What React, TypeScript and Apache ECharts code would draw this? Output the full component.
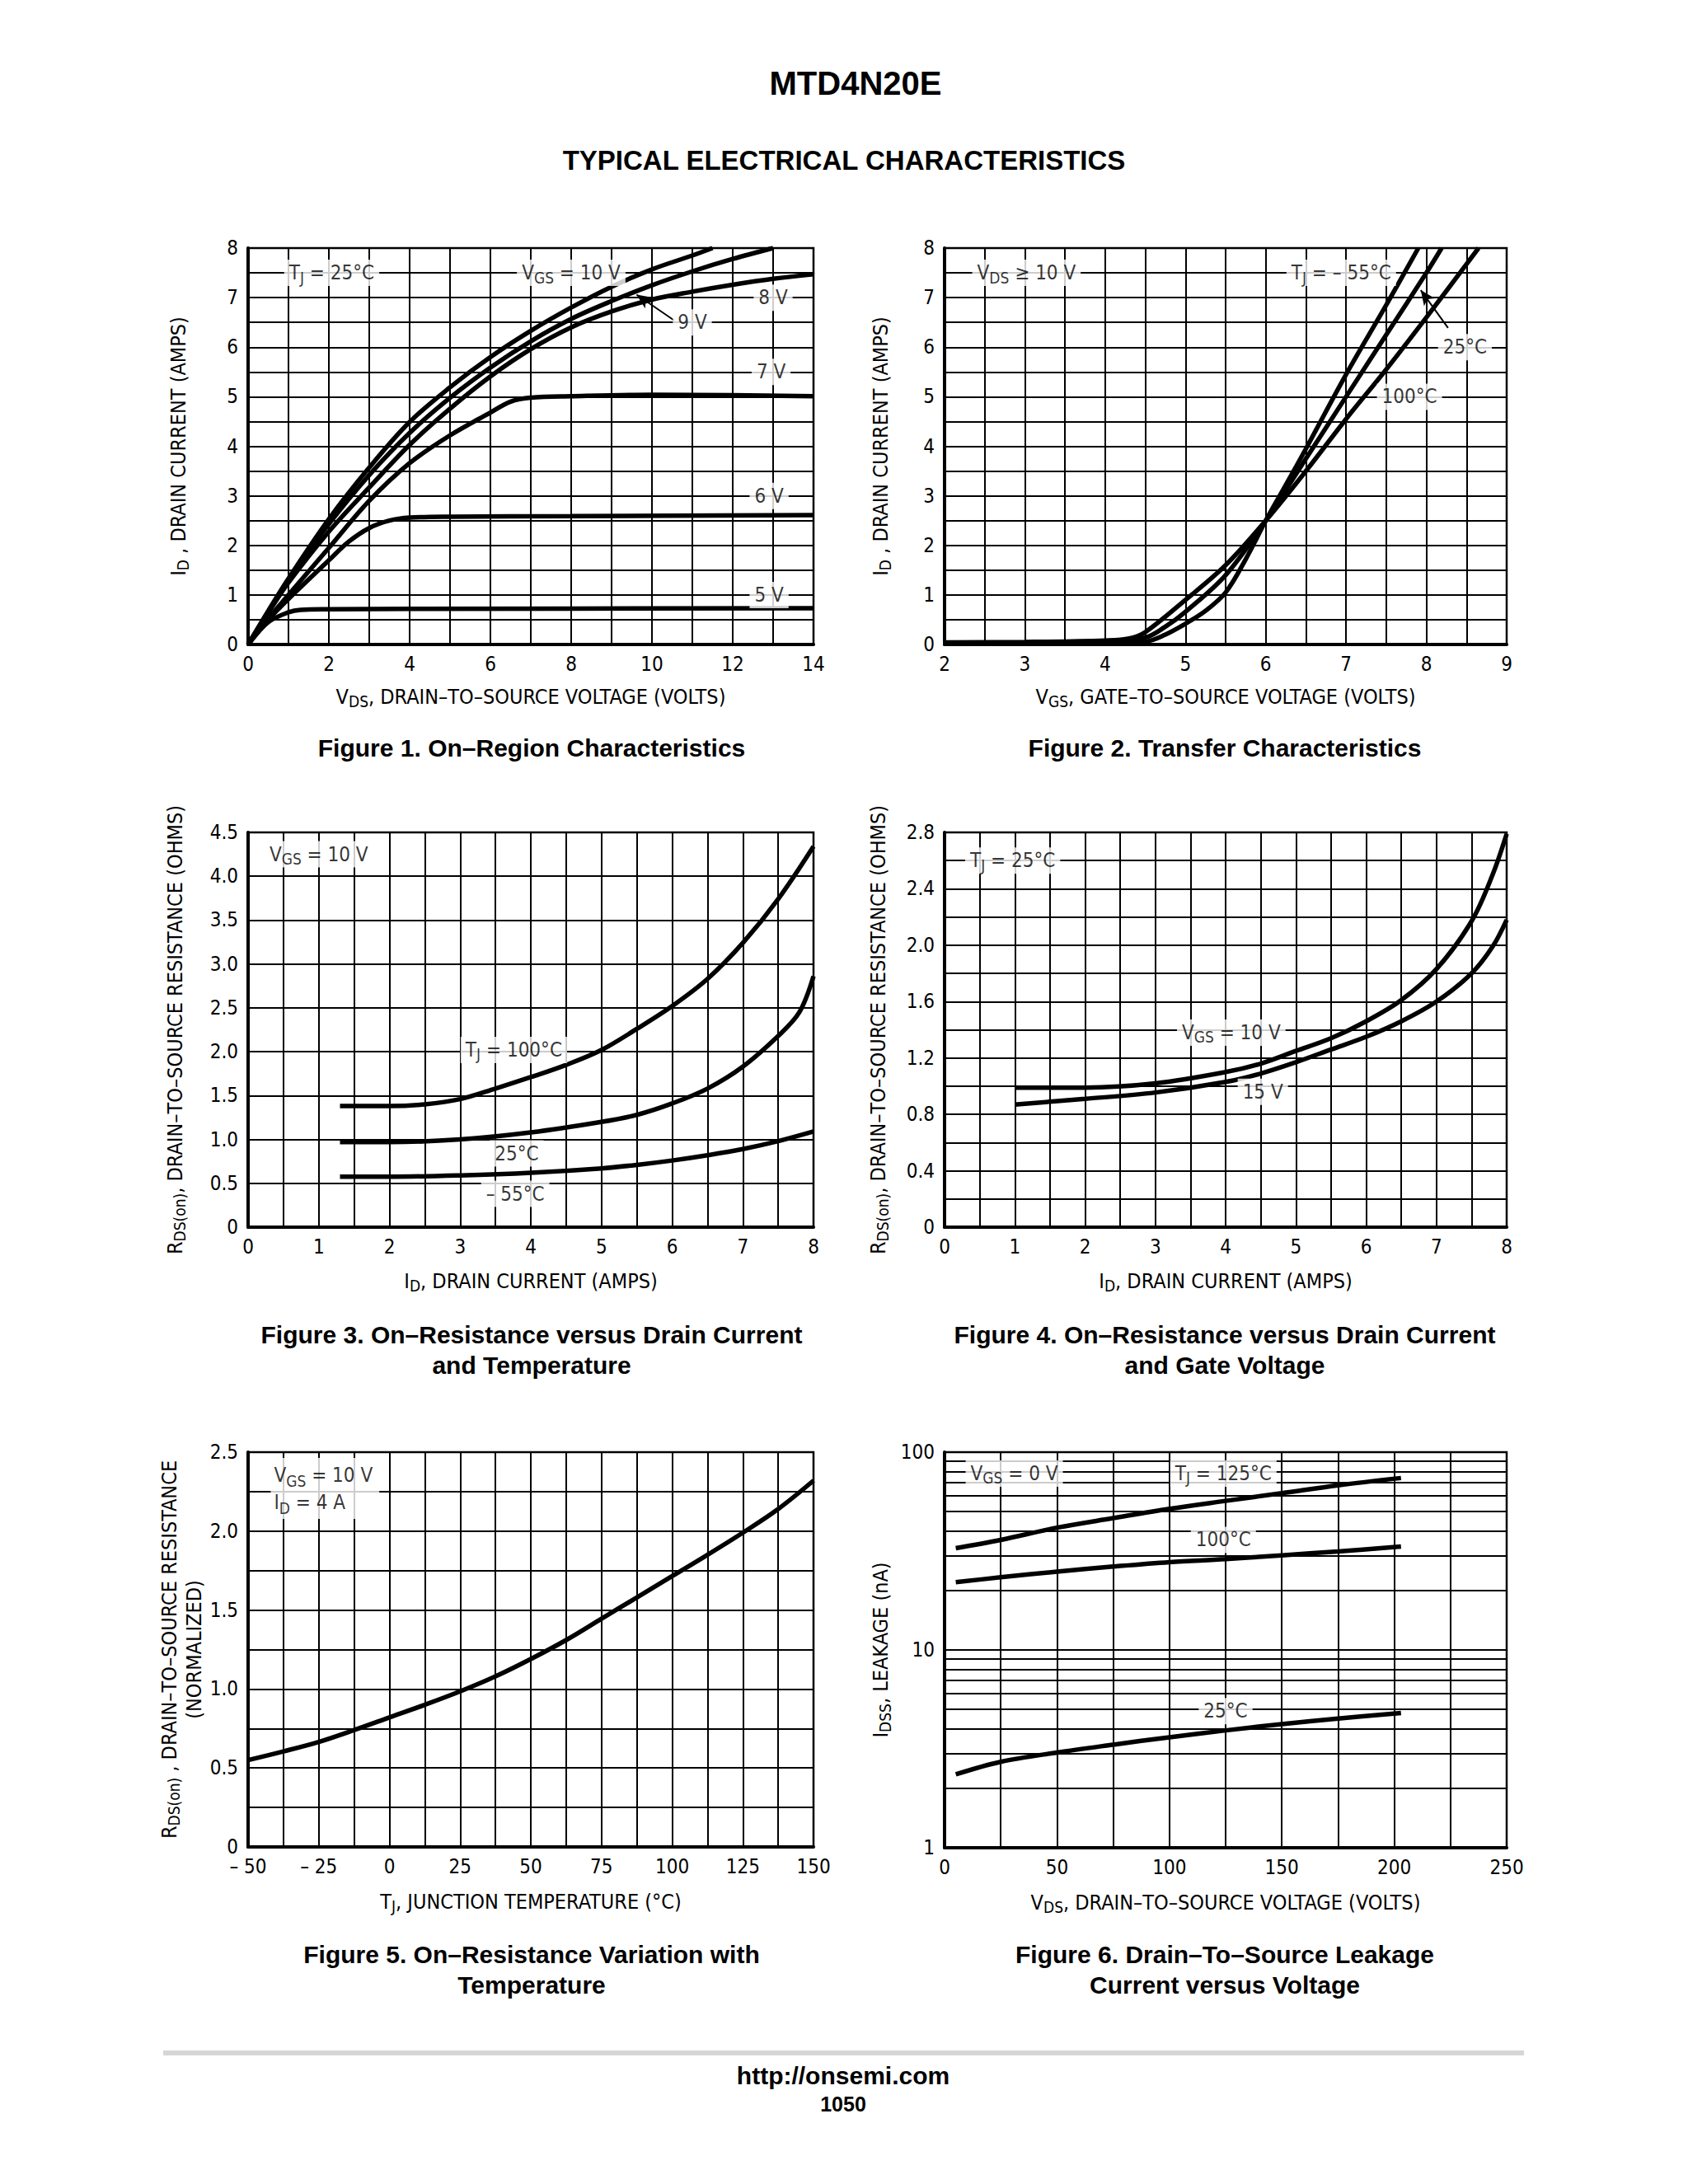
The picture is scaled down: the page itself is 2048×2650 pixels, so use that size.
import React, { useEffect, useRef } from 'react';
import * as echarts from 'echarts';

// ---------- Figure 1: ID vs VDS (TJ = 25°C) ----------
const f1Vgs10 = [[0, 0], [0.5, 0.68], [1, 1.33], [2, 2.53], [3, 3.57], [4, 4.49], [5, 5.19], [6, 5.8], [7, 6.33], [8, 6.8], [9, 7.22], [10, 7.57], [11, 7.85], [11.5, 8.0]];
const f1Vgs9 = [[0, 0], [0.5, 0.66], [1, 1.3], [2, 2.43], [3, 3.42], [4, 4.27], [5, 4.98], [6, 5.59], [7, 6.12], [8, 6.57], [9, 6.93], [10, 7.25], [11, 7.53], [12, 7.78], [13, 8.0]];
const f1Vgs8 = [[0, 0], [0.5, 0.64], [1, 1.25], [2, 2.28], [3, 3.17], [4, 4.03], [5, 4.76], [6, 5.41], [7, 5.96], [8, 6.4], [9, 6.72], [10, 6.96], [11, 7.12], [12, 7.26], [13, 7.38], [14, 7.47]];
const f1Vgs7 = [[0, 0], [0.5, 0.52], [1, 1.0], [2, 1.95], [3, 2.9], [4, 3.66], [5, 4.22], [6, 4.68], [6.5, 4.9], [7, 4.98], [8, 5.01], [10, 5.04], [12, 5.03], [14, 5.01]];
const f1Vgs6 = [[0, 0], [0.5, 0.5], [1, 0.92], [2, 1.7], [2.5, 2.08], [3, 2.35], [3.5, 2.5], [4, 2.56], [5, 2.58], [8, 2.59], [14, 2.61]];
const f1Vgs5 = [[0, 0], [0.5, 0.45], [1, 0.65], [1.3, 0.7], [2, 0.71], [4, 0.72], [14, 0.73]];

// ---------- Figure 2: ID vs VGS (VDS >= 10 V) ----------
const f2Tm55 = [[2, 0.02], [3, 0.03], [4, 0.04], [4.5, 0.06], [4.75, 0.2], [5, 0.42], [5.25, 0.68], [5.5, 1.05], [5.75, 1.72], [6, 2.5], [6.25, 3.22], [6.5, 3.95], [7, 5.45], [7.5, 6.85], [7.9, 8.0]];
const f2T25 = [[2, 0.03], [3, 0.04], [4, 0.06], [4.5, 0.14], [4.75, 0.36], [5, 0.66], [5.5, 1.4], [6, 2.5], [6.5, 3.75], [7, 5.0], [7.5, 6.25], [8, 7.5], [8.19, 8.0]];
const f2T100 = [[2, 0.04], [3, 0.05], [4, 0.08], [4.3, 0.12], [4.5, 0.25], [5, 0.9], [5.5, 1.6], [6, 2.5], [6.5, 3.5], [7, 4.55], [7.5, 5.55], [8, 6.6], [8.65, 8.0]];

// ---------- Figure 3: RDS(on) vs ID and temperature ----------
const f3T100 = [[1.3, 1.38], [2, 1.38], [2.5, 1.4], [3, 1.46], [3.5, 1.58], [4, 1.71], [4.5, 1.85], [5, 2.02], [5.5, 2.26], [6, 2.52], [6.5, 2.83], [7, 3.24], [7.5, 3.74], [8, 4.34]];
const f3T25 = [[1.3, 0.97], [2, 0.97], [3, 1.0], [4, 1.08], [5, 1.2], [5.5, 1.28], [6, 1.41], [6.5, 1.58], [7, 1.83], [7.5, 2.18], [7.8, 2.45], [8, 2.86]];
const f3Tm55 = [[1.3, 0.575], [2, 0.575], [3, 0.59], [4, 0.62], [5, 0.67], [5.5, 0.71], [6, 0.76], [6.5, 0.82], [7, 0.89], [7.5, 0.98], [8, 1.09]];

// ---------- Figure 4: RDS(on) vs ID and gate voltage ----------
const f4Vgs10 = [[1, 0.99], [2, 0.99], [3, 1.02], [4, 1.1], [4.5, 1.16], [5, 1.25], [5.5, 1.34], [6, 1.46], [6.5, 1.61], [7, 1.83], [7.5, 2.17], [7.8, 2.5], [8, 2.79]];
const f4Vgs15 = [[1, 0.87], [2, 0.91], [3, 0.955], [4, 1.03], [4.5, 1.09], [5, 1.17], [5.5, 1.26], [6, 1.35], [6.5, 1.46], [7, 1.6], [7.5, 1.8], [7.8, 1.99], [8, 2.18]];

// ---------- Figure 5: normalized RDS(on) vs TJ ----------
const f5Temp = [-50, -37.5, -25, -12.5, 0, 12.5, 25, 37.5, 50, 62.5, 75, 87.5, 100, 112.5, 125, 137.5, 150];
const f5Rds = [0.55, 0.605, 0.665, 0.74, 0.82, 0.9, 0.985, 1.08, 1.19, 1.31, 1.445, 1.58, 1.715, 1.85, 1.99, 2.14, 2.32];

// ---------- Figure 6: IDSS leakage vs VDS ----------
const f6Vds = [5, 25, 50, 75, 100, 125, 150, 175, 203];
const f6I125 = [32.7, 36, 41.5, 46.4, 51.7, 56.7, 62, 68, 74];
const f6I100 = [22, 23.3, 24.9, 26.4, 27.8, 28.8, 30.1, 31.5, 33.3];
const f6I25 = [2.35, 2.72, 3.03, 3.32, 3.62, 3.92, 4.22, 4.5, 4.8];
const f6MinorTicks = [2, 3, 4, 5, 6, 7, 8, 9, 20, 30, 40, 50, 60, 70, 80, 90];

const FONT = "'Liberation Sans Narrow','DejaVu Sans Condensed','Arial Narrow',sans-serif";
const BOLD = "'Liberation Sans',Arial,Helvetica,sans-serif";
const FS = 24;

const rich = {
  sub: { fontSize: 19, fontFamily: FONT, color: '#000', verticalAlign: 'bottom', lineHeight: 14 },
};

const GRIDS = [
  { left: 301, top: 301, width: 686, height: 481 },
  { left: 1146, top: 301, width: 682, height: 481 },
  { left: 301, top: 1010, width: 686, height: 479 },
  { left: 1146, top: 1010, width: 682, height: 479 },
  { left: 301, top: 1762, width: 686, height: 479 },
  { left: 1146, top: 1762, width: 682, height: 480 },
];

const GW = 2;
const gridLine = { show: true, lineStyle: { color: '#000', width: GW } };
const axisLabelBase = { color: '#000', fontSize: FS, fontFamily: FONT, margin: 12 };
const nameStyle = { color: '#000', fontSize: 25, fontFamily: FONT, lineHeight: 30, rich };

function ax(i: number, min: number, max: number, interval: number, minor: number, name: string, gap: number, fmt?: (v: number) => string) {
  return {
    gridIndex: i, type: 'value', min, max, interval,
    axisLine: { show: true, onZero: false, lineStyle: { color: '#000', width: 4 } },
    axisTick: { show: false },
    axisLabel: { ...axisLabelBase, formatter: fmt },
    splitLine: gridLine,
    minorTick: { show: false, splitNumber: minor },
    minorSplitLine: { show: minor > 1, lineStyle: { color: '#000', width: GW } },
    name, nameLocation: 'middle', nameGap: gap, nameTextStyle: nameStyle,
  };
}

function curve(i: number, data: number[][]) {
  return {
    type: 'line', xAxisIndex: i, yAxisIndex: i, data, smooth: 0.35, showSymbol: false, symbol: 'none',
    lineStyle: { color: '#000', width: 5.5 }, z: 3, silent: true,
  };
}
function zipCurve(i: number, xs: number[], ys: number[]) {
  return curve(i, xs.map((x, k) => [x, ys[k]]));
}

const noteLabel = {
  show: true, position: 'inside', formatter: (p: any) => p.name, color: '#000', fontSize: FS,
  fontFamily: FONT, backgroundColor: '#fff', padding: [1, 6, 1, 6], lineHeight: 30, rich,
};

function notes(i: number, items: any[], markLine?: any, label?: any) {
  return {
    type: 'scatter', xAxisIndex: i, yAxisIndex: i, symbol: 'circle', symbolSize: 1,
    itemStyle: { color: 'rgba(0,0,0,0)' }, silent: true, z: 6,
    label: label || noteLabel,
    data: items,
    markLine,
  };
}

function arrow(from: number[], to: number[]) {
  return {
    silent: true, symbol: ['none', 'arrow'], symbolSize: [12, 18],
    lineStyle: { color: '#000', width: 2, type: 'solid' }, label: { show: false },
    data: [[{ coord: from }, { coord: to }]],
  };
}

const dec1 = (v: number) => (v === 0 ? '0' : v.toFixed(1));
const neg = (v: number) => (v < 0 ? '– ' + (-v) : String(v));

function caption(x: number, y: number, text: string, size = 30) {
  return {
    type: 'text', x, y, silent: true,
    style: { text, fill: '#000', font: `bold ${size}px ${BOLD}`, align: 'center', verticalAlign: 'middle', textAlign: 'center', textVerticalAlign: 'middle' },
  };
}

export default function App() {
  const ref = useRef<HTMLDivElement>(null);
  useEffect(() => {
    if (!ref.current) return;
    const chart = echarts.init(ref.current, undefined, { renderer: 'svg' });
    const option: any = {
      animation: false,
      backgroundColor: '#fff',
      grid: GRIDS.map((g) => ({ ...g, show: true, borderColor: '#000', borderWidth: 2.5, containLabel: false })),
      xAxis: [
        ax(0, 0, 14, 2, 2, 'V{sub|DS}, DRAIN–TO–SOURCE VOLTAGE (VOLTS)', 48),
        ax(1, 2, 9, 1, 2, 'V{sub|GS}, GATE–TO–SOURCE VOLTAGE (VOLTS)', 48),
        ax(2, 0, 8, 1, 2, 'I{sub|D}, DRAIN CURRENT (AMPS)', 50),
        ax(3, 0, 8, 1, 2, 'I{sub|D}, DRAIN CURRENT (AMPS)', 50),
        ax(4, -50, 150, 25, 2, 'T{sub|J}, JUNCTION TEMPERATURE (°C)', 51, neg),
        ax(5, 0, 250, 50, 2, 'V{sub|DS}, DRAIN–TO–SOURCE VOLTAGE (VOLTS)', 51),
      ],
      yAxis: [
        ax(0, 0, 8, 1, 2, 'I{sub|D} , DRAIN CURRENT (AMPS)', 70),
        ax(1, 0, 8, 1, 2, 'I{sub|D} , DRAIN CURRENT (AMPS)', 63),
        ax(2, 0, 4.5, 0.5, 1, 'R{sub|DS(on)}, DRAIN–TO–SOURCE RESISTANCE (OHMS)', 74, dec1),
        ax(3, 0, 2.8, 0.4, 2, 'R{sub|DS(on)}, DRAIN–TO–SOURCE RESISTANCE (OHMS)', 66, dec1),
        ax(4, 0, 2.5, 0.5, 2, 'R{sub|DS(on)} , DRAIN–TO–SOURCE RESISTANCE\n(NORMALIZED)', 50, dec1),
        {
          gridIndex: 5, type: 'log', logBase: 10, min: 1, max: 100,
          axisLine: { show: true, onZero: false, lineStyle: { color: '#000', width: 4 } },
          axisTick: { show: false },
          axisLabel: axisLabelBase,
          splitLine: gridLine,
          name: 'I{sub|DSS}, LEAKAGE (nA)', nameLocation: 'middle', nameGap: 63, nameTextStyle: nameStyle,
        },
      ],
      series: [
        curve(0, f1Vgs10), curve(0, f1Vgs9), curve(0, f1Vgs8), curve(0, f1Vgs7), curve(0, f1Vgs6), curve(0, f1Vgs5),
        notes(0, [
          { name: 'T{sub|J} = 25°C', value: [2.07, 7.5] },
          { name: 'V{sub|GS} = 10 V', value: [8.0, 7.5] },
          { name: '8 V', value: [13.0, 7.0] },
          { name: '9 V', value: [11.0, 6.5] },
          { name: '7 V', value: [12.95, 5.5] },
          { name: '6 V', value: [12.9, 3.0] },
          { name: '5 V', value: [12.9, 1.0] },
        ], arrow([10.55, 6.54], [9.62, 7.06])),

        curve(1, f2Tm55), curve(1, f2T25), curve(1, f2T100),
        notes(1, [
          { name: 'V{sub|DS} ≥ 10 V', value: [3.02, 7.5] },
          { name: 'T{sub|J} = – 55°C', value: [6.94, 7.5] },
          { name: '25°C', value: [8.48, 6.0] },
          { name: '100°C', value: [7.79, 5.0] },
        ], arrow([8.27, 6.39], [7.93, 7.15])),

        curve(2, f3T100), curve(2, f3T25), curve(2, f3Tm55),
        notes(2, [
          { name: 'V{sub|GS} = 10 V', value: [1.0, 4.25] },
          { name: 'T{sub|J} = 100°C', value: [3.76, 2.02] },
          { name: '25°C', value: [3.8, 0.84] },
          { name: '– 55°C', value: [3.78, 0.38] },
        ]),

        curve(3, f4Vgs10), curve(3, f4Vgs15),
        notes(3, [
          { name: 'T{sub|J} = 25°C', value: [0.97, 2.6] },
          { name: 'V{sub|GS} = 10 V', value: [4.08, 1.38] },
          { name: '15 V', value: [4.53, 0.96] },
        ]),

        zipCurve(4, f5Temp, f5Rds),
        notes(4, [{ name: 'V{sub|GS} = 10 V\nI{sub|D} = 4 A', value: [-42, 2.27] }], undefined, {
          ...noteLabel, align: 'left', padding: [4, 8, 4, 4], lineHeight: 33,
        }),

        zipCurve(5, f6Vds, f6I125), zipCurve(5, f6Vds, f6I100), zipCurve(5, f6Vds, f6I25),
        notes(5, [
          { name: 'V{sub|GS} = 0 V', value: [31, 78] },
          { name: 'T{sub|J} = 125°C', value: [124, 78] },
          { name: '100°C', value: [124, 36] },
          { name: '25°C', value: [125, 4.9] },
        ], {
          silent: true, symbol: ['none', 'none'], label: { show: false }, z: 1,
          lineStyle: { color: '#000', width: GW, type: 'solid' },
          data: f6MinorTicks.map((v) => ({ yAxis: v })),
        }),
      ],
      graphic: [
        caption(1038, 101, 'MTD4N20E', 40),
        caption(1024, 194, 'TYPICAL ELECTRICAL CHARACTERISTICS', 33),
        caption(645, 907, 'Figure 1. On–Region Characteristics'),
        caption(1486, 907, 'Figure 2. Transfer Characteristics'),
        caption(645, 1619, 'Figure 3. On–Resistance versus Drain Current'),
        caption(645, 1656, 'and Temperature'),
        caption(1486, 1619, 'Figure 4. On–Resistance versus Drain Current'),
        caption(1486, 1656, 'and Gate Voltage'),
        caption(645, 2371, 'Figure 5. On–Resistance Variation with'),
        caption(645, 2408, 'Temperature'),
        caption(1486, 2371, 'Figure 6. Drain–To–Source Leakage'),
        caption(1486, 2408, 'Current versus Voltage'),
        { type: 'rect', silent: true, shape: { x: 198, y: 2488, width: 1651, height: 6 }, style: { fill: '#d6d6d6' } },
        caption(1023, 2518, 'http://onsemi.com', 30),
        caption(1023, 2553, '1050', 25),
      ],
    };
    chart.setOption(option);
    return () => chart.dispose();
  }, []);
  return <div ref={ref} style={{ position: 'absolute', left: 0, top: 0, width: 2048, height: 2650 }} />;
}
